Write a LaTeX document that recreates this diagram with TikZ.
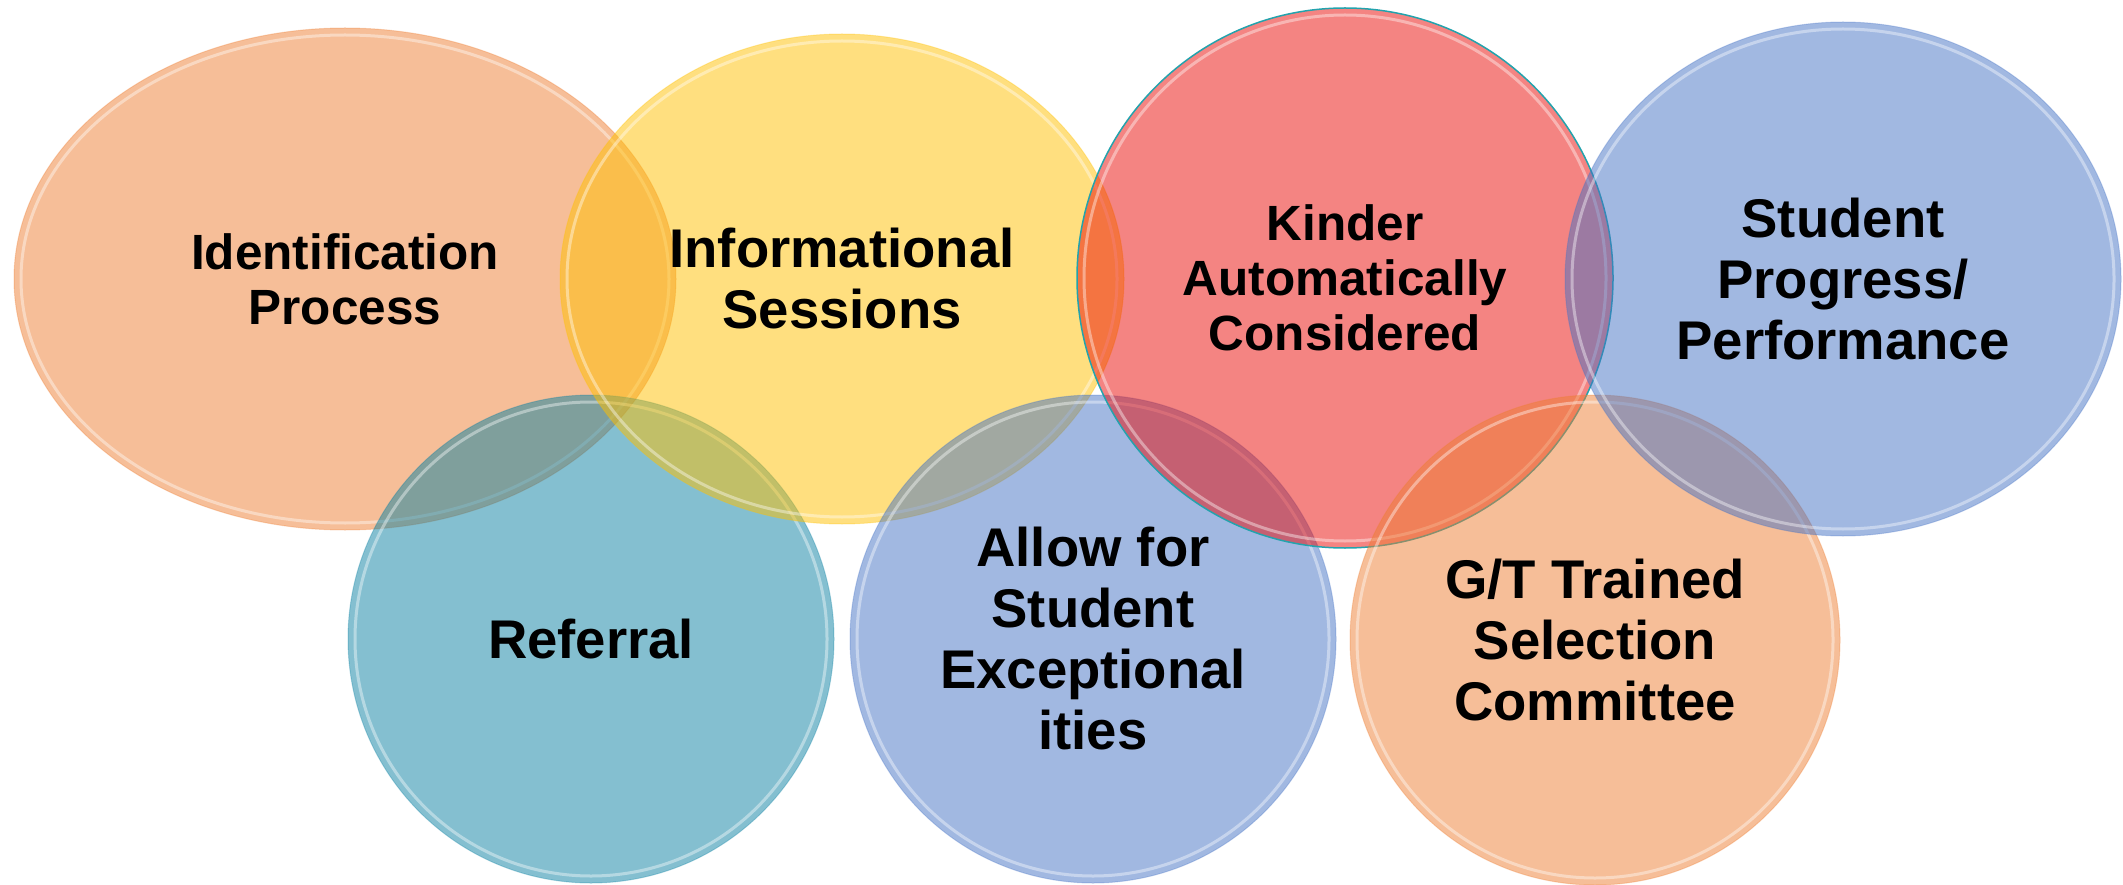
\documentclass[tikz,border=0pt]{standalone}
\usepackage{fontspec}
\setmainfont{Liberation Sans}
\usepackage{xcolor}
\usepackage{tikz}
\usetikzlibrary{shapes.geometric}
\definecolor{StepOrange}{HTML}{ED7D31}
\definecolor{StepGold}{HTML}{FFC000}
\definecolor{StepTeal}{HTML}{0A80A2}
\definecolor{StepRed}{HTML}{E90905}
\definecolor{StepBlue}{HTML}{4472C4}
\definecolor{KinderRim}{HTML}{23A3AD}

\begin{document}
\begin{tikzpicture}[x=1pt, y=-1pt,
                      every node/.style={ellipse, align=center, text=black, text opacity=1,
                                         fill opacity=.5, draw opacity=.3, line width=1pt},
                      bigtext/.style={font=\fontsize{54.5}{61}\selectfont\bfseries},
                      smalltext/.style={font=\fontsize{49.5}{55}\selectfont\bfseries},
                      rim/.style={draw=white, line width=3pt, draw opacity=.4}]
  \useasboundingbox (0,0) rectangle (2123,885);
  \node[smalltext, fill=StepOrange, draw=StepOrange, minimum width=662, minimum height=502] (ident) at (345,279) {Identification\\Process};
  \draw[rim] (ident.center) ellipse [x radius=324pt, y radius=244pt];
  \node[bigtext, fill=StepTeal, draw=StepTeal, minimum width=486, minimum height=488] (referral) at (591,639) {Referral};
  \draw[rim] (referral.center) ellipse [x radius=236pt, y radius=237pt];
  \node[bigtext, fill=StepGold, draw=StepGold, minimum width=564, minimum height=490] (info) at (842,279) {Informational\\Sessions};
  \draw[rim] (info.center) ellipse [x radius=275pt, y radius=238pt];
  \node[bigtext, fill=StepBlue, draw=StepBlue, minimum width=486, minimum height=488] (allow) at (1093,639) {Allow for\\Student\\Exceptional\\ities};
  \draw[rim] (allow.center) ellipse [x radius=236pt, y radius=237pt];
  \node[smalltext, fill=StepRed, draw=KinderRim, draw opacity=1, line width=1.5pt, minimum width=536, minimum height=540] (kinder) at (1345,278) {Kinder\\Automatically\\Considered};
  \draw[rim] (kinder.center) ellipse [x radius=261pt, y radius=263pt];
  \node[bigtext, fill=StepOrange, draw=StepOrange, minimum width=490, minimum height=490] (committee) at (1595,640) {G/T Trained\\Selection\\Committee};
  \draw[rim] (committee.center) ellipse [x radius=238pt, y radius=238pt];
  \node[bigtext, fill=StepBlue, draw=StepBlue, minimum width=556, minimum height=514] (progress) at (1843,279) {Student\\Progress/\\Performance};
  \draw[rim] (progress.center) ellipse [x radius=271pt, y radius=250pt];
\end{tikzpicture}
\end{document}
